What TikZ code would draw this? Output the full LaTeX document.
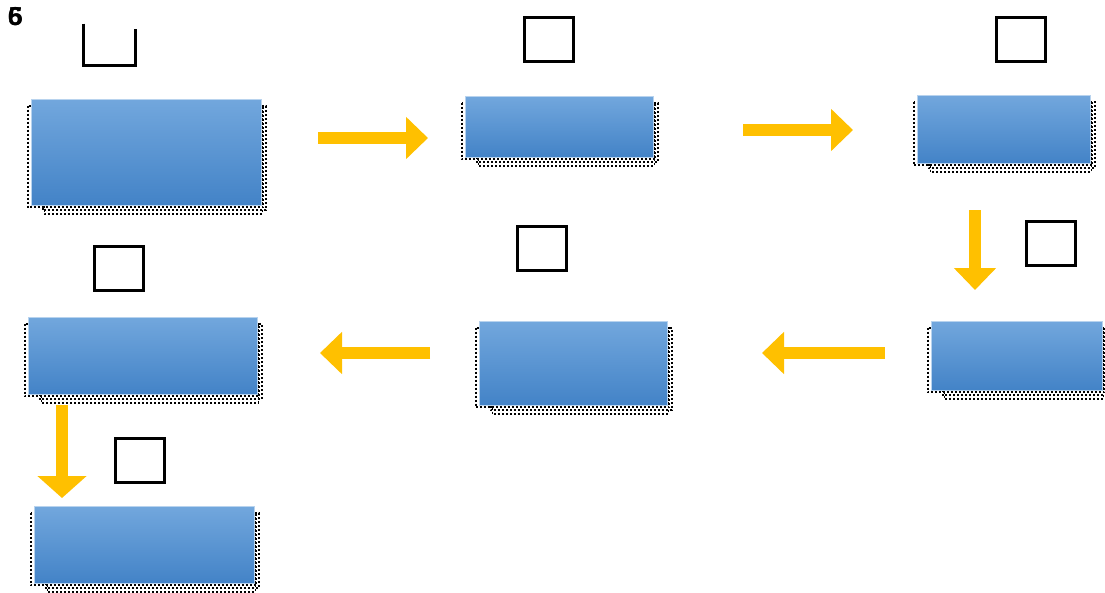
\documentclass[tikz,border=0pt]{standalone}
\usepackage{fontspec}
\setsansfont{Liberation Sans}
\usetikzlibrary{arrows.meta,backgrounds}

\definecolor{stagetop}{HTML}{72A7DD}
\definecolor{stagebot}{HTML}{4383C7}
\definecolor{flowyellow}{HTML}{FFC000}

\begin{document}
\begin{tikzpicture}[
    x=1pt, y=-1pt,
    stage/.style={rectangle, inner sep=0pt, top color=stagetop, bottom color=stagebot, draw=stagetop!50!white, line width=0.8pt},
    tag/.style={rectangle, draw, line width=3pt, minimum width=49pt, minimum height=44pt, inner sep=0pt},
    flow/.style={draw=flowyellow, line width=12pt, -{Triangle[width=41pt,length=22pt]}},
    dots/.style={draw=black, line width=2pt, dash pattern=on 2pt off 2pt}
]
\useasboundingbox (0,0) rectangle (1105,592);

% Number in the corner
\node[font=\sffamily\bfseries\fontsize{26}{26}\selectfont, inner sep=0pt] (num6) at (15,17) {6};
\node[font=\sffamily\bfseries\fontsize{26}{26}\selectfont, inner sep=0pt] (num5) at (15.5,17) {5};

% Stages
\node[stage, minimum width=230pt, minimum height=106pt] (stage1) at (146,152) {};
\node[stage, minimum width=188pt, minimum height=61pt] (stage2) at (559,126.5) {};
\node[stage, minimum width=173pt, minimum height=68pt] (stage3) at (1003.5,129) {};
\node[stage, minimum width=171pt, minimum height=69pt] (stage4) at (1016.5,355.5) {};
\node[stage, minimum width=188pt, minimum height=84pt] (stage5) at (573,363) {};
\node[stage, minimum width=229pt, minimum height=77pt] (stage6) at (142.5,355.5) {};
\node[stage, minimum width=220pt, minimum height=77pt] (stage7) at (144,544.5) {};

% Dotted shadows
\begin{scope}[on background layer]
\foreach \s in {stage1,stage2,stage3,stage4,stage5,stage6,stage7} {
    \draw[dots] ([shift={(-3,7)}]\s.north west) rectangle ([shift={(2,2)}]\s.south east);
    \draw[dots, dash phase=2pt] ([shift={(12,7)}]\s.north west) rectangle ([shift={(4.5,4.5)}]\s.south east);
    \draw[dots, line width=1.6pt] ([shift={(14,7)}]\s.north west) rectangle ([shift={(1,8.5)}]\s.south east);
}
\end{scope}

% Empty tags
\node[tag, draw=none] (tag1) at (109.5,42) {};
\draw[line width=3pt] ([yshift=-5pt]tag1.north west) -- (tag1.south west) -- (tag1.south east) -- ([yshift=-10pt]tag1.north east);
\node[tag] (tag2) at (549,39.5) {};
\node[tag] (tag3) at (1021,39.5) {};
\node[tag] (tag4) at (1050.5,243.5) {};
\node[tag] (tag5) at (541.5,248.5) {};
\node[tag] (tag6) at (118.5,268.5) {};
\node[tag] (tag7) at (139.5,460) {};

% Arrow ends
\coordinate (f1a) at (318,138);  \coordinate (f1b) at (428,138);
\coordinate (f2a) at (743,130);  \coordinate (f2b) at (853,130);
\coordinate (f3a) at (975,210);  \coordinate (f3b) at (975,290);
\coordinate (f4a) at (885,353);  \coordinate (f4b) at (762,353);
\coordinate (f5a) at (430,353);  \coordinate (f5b) at (320,353);
\coordinate (f6a) at (62,405);   \coordinate (f6b) at (62,498);

% Flow
\draw[flow] (f1a) -- (f1b);
\draw[flow] (f2a) -- (f2b);
\draw[flow] (f3a) -- (f3b);
\draw[flow] (f4a) -- (f4b);
\draw[flow] (f5a) -- (f5b);
\draw[flow, -{Triangle[width=48pt,length=22pt]}] (f6a) -- (f6b);

\end{tikzpicture}
\end{document}
